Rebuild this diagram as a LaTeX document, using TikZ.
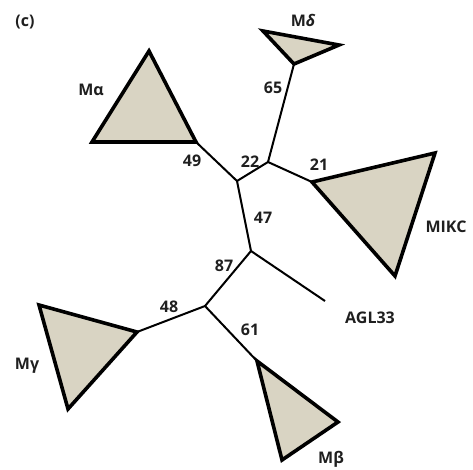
\documentclass[tikz,border=0pt]{standalone}
\usepackage{fontspec}
\setmainfont{Open Sans}
\begin{document}
\begin{tikzpicture}[x=1pt,y=-1pt,
  branch/.style={line width=2pt,line join=round},
  clade/.style={line width=3.6pt,line join=miter,fill=cladefill},
  lbl/.style={font=\fontsize{16}{18}\selectfont\bfseries,inner sep=0pt,text=black!88}]
\definecolor{cladefill}{RGB}{217,212,195}
\useasboundingbox (0,0) rectangle (473,469);

% internal nodes of the tree
\coordinate (nA) at (237,181);
\coordinate (nB) at (268,162);
\coordinate (nC) at (251,251);
\coordinate (nD) at (205,306);
\coordinate (agl) at (325,301);

% clade triangles (first vertex is the attachment point)
\coordinate (al1) at (196,142); \coordinate (al2) at (149,51);  \coordinate (al3) at (92,142);
\coordinate (de1) at (294,64);  \coordinate (de2) at (339,45);  \coordinate (de3) at (263,31);
\coordinate (mi1) at (312,182); \coordinate (mi2) at (435,153); \coordinate (mi3) at (395,276);
\coordinate (ga1) at (137,332); \coordinate (ga2) at (39,305);  \coordinate (ga3) at (68,409);
\coordinate (be1) at (257,361); \coordinate (be2) at (338,422); \coordinate (be3) at (282,460);

% branches
\draw[branch] (al1) -- (nA) -- (nB) -- (de1);
\draw[branch] (nB) -- (mi1);
\draw[branch] (nA) -- (nC) -- (agl);
\draw[branch] (nC) -- (nD) -- (ga1);
\draw[branch] (nD) -- (be1);

\draw[clade] (al1) -- (al2) -- (al3) -- cycle;
\draw[clade] (de1) -- (de2) -- (de3) -- cycle;
\draw[clade] (mi1) -- (mi2) -- (mi3) -- cycle;
\draw[clade] (ga1) -- (ga2) -- (ga3) -- cycle;
\draw[clade] (be1) -- (be2) -- (be3) -- cycle;

% labels
\node[lbl] (tc) at (25,22) {(c)};
\node[lbl] (la) at (91,90) {Mα};
\node[lbl] (ld) at (303,20) {M{\itshape δ}};
\node[lbl] (lm) at (446,227) {MIKC};
\node[lbl] (lag) at (370,318) {AGL33};
\node[lbl] (lg) at (27,366) {Mγ};
\node[lbl] (lb) at (331,459) {Mβ};
\node[lbl] (b49) at (192,161) {49};
\node[lbl] (b65) at (273,88) {65};
\node[lbl] (b22) at (250,162) {22};
\node[lbl] (b21) at (319,165) {21};
\node[lbl] (b47) at (263,218) {47};
\node[lbl] (b87) at (224,266) {87};
\node[lbl] (b48) at (169,307) {48};
\node[lbl] (b61) at (250,330) {61};
\end{tikzpicture}
\end{document}
